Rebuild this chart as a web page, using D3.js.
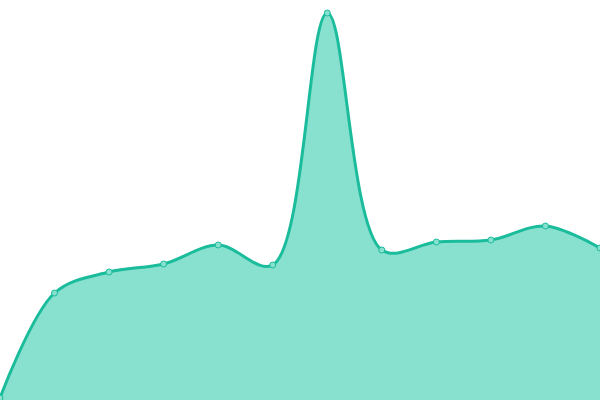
<!DOCTYPE html>
<html>
<head>
<meta charset="utf-8">
<script src="https://cdn.jsdelivr.net/npm/d3@7"></script>
<style>
  body { margin: 0; background: #fff; }
  svg { display: block; }
</style>
</head>
<body>
<svg id="chart" width="600" height="400"></svg>
<script>
// data
const months = ["Jan", "Feb", "Mar", "Apr", "May", "Jun", "Jul", "Aug", "Sep", "Oct", "Nov", "Dec"];
const values = [2, 107, 128, 136, 155, 135, 387, 150, 158, 160, 174, 152];

const width = 600, height = 400;
const svg = d3.select("#chart");

const x = d3.scalePoint().domain(months).range([0, width]);
const y = d3.scaleLinear().domain([0, 400]).range([height, 0]);

const data = months.map((m, i) => ({ month: m, value: values[i] }));

let curve = d3.curveCatmullRom.alpha(0.5);

let area = d3.area()
    .x(d => x(d.month))
    .y0(y(0))
    .y1(d => y(d.value))
    .curve(curve);

let line = d3.line()
    .x(d => x(d.month))
    .y(d => y(d.value))
    .curve(curve);

svg.append("path")
    .datum(data)
    .attr("d", area)
    .attr("fill", "#88e0cf");

svg.append("path")
    .datum(data)
    .attr("d", line)
    .attr("fill", "none")
    .attr("stroke", "#1abc9c")
    .attr("stroke-width", 3);

// point markers
svg.selectAll("circle")
    .data(data)
    .join("circle")
    .attr("cx", d => x(d.month))
    .attr("cy", d => y(d.value))
    .attr("r", 3)
    .attr("fill", "#88e0cf")
    .attr("stroke", "#1abc9c")
    .attr("stroke-width", 1);
</script>
</body>
</html>
